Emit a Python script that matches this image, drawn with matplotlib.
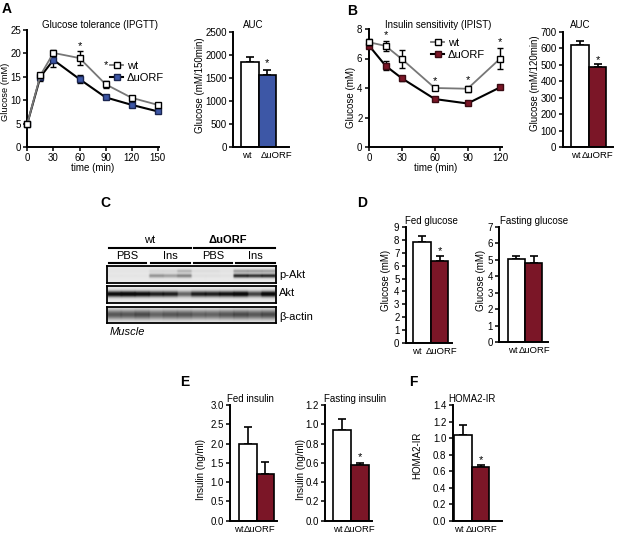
import numpy as np
import matplotlib
matplotlib.use("Agg")
import matplotlib.pyplot as plt
from matplotlib.lines import Line2D

plt.rcParams['font.family'] = ['Liberation Sans', 'DejaVu Sans']
FS = 7.0
XFS = 6.8
plt.rcParams['font.size'] = FS

# ---------------- data ----------------
ipgtt_time = [0, 15, 30, 60, 90, 120, 150]
ipgtt_wt = [5.0, 15.3, 20.1, 19.0, 13.4, 10.5, 9.0]
ipgtt_wt_err = [0.3, 0.6, 0.6, 1.5, 0.8, 0.4, 0.4]
ipgtt_ko = [5.0, 15.0, 18.6, 14.5, 10.6, 9.0, 7.6]
ipgtt_ko_err = [0.3, 0.8, 1.5, 0.8, 0.4, 0.4, 0.3]
ipgtt_star_t = [60, 90]
ipgtt_star_y = [20.6, 16.4]

auc_a_vals = [1855, 1565]
auc_a_err = [110, 110]

ipist_time = [0, 15, 30, 60, 90, 120]
ipist_wt = [7.1, 6.85, 5.95, 4.0, 3.95, 6.0]
ipist_wt_err = [0.2, 0.35, 0.6, 0.1, 0.2, 0.7]
ipist_ko = [6.85, 5.5, 4.65, 3.25, 2.95, 4.05]
ipist_ko_err = [0.15, 0.3, 0.15, 0.08, 0.08, 0.1]
ipist_star_t = [15, 60, 90, 120]

auc_b_vals = [618, 484]
auc_b_err = [28, 22]

groups = ['wt', '\u0394uORF']

fed_glu = [7.85, 6.35]
fed_glu_err = [0.45, 0.35]
fast_glu = [5.05, 4.8]
fast_glu_err = [0.2, 0.45]
fed_ins = [2.0, 1.22]
fed_ins_err = [0.42, 0.31]
fast_ins = [0.94, 0.58]
fast_ins_err = [0.115, 0.02]
homa = [1.04, 0.655]
homa_err = [0.12, 0.025]

# western blot band intensities (12 lanes: wt PBS x3, wt Ins x3, dUORF PBS x3, dUORF Ins x3)
pakt_low = [0.02, 0.02, 0.02, 0.35, 0.30, 0.42, 0.04, 0.04, 0.03, 0.80, 0.75, 0.80]
pakt_up = [0.02, 0.02, 0.02, 0.08, 0.08, 0.22, 0.05, 0.05, 0.03, 0.30, 0.30, 0.30]
akt = [0.95, 1.0, 0.95, 0.85, 0.85, 0.55, 0.85, 0.85, 0.9, 1.0, 0.7, 1.0]
bactin = [0.6, 0.6, 0.65, 0.55, 0.6, 0.6, 0.55, 0.55, 0.6, 0.65, 0.6, 0.65]

BLUE = '#3d57a6'
RED = '#7b1627'

W, H = 621, 545
fig = plt.figure(figsize=(W / 100, H / 100), dpi=100)


def ax_px(l, t, r, b):
    return fig.add_axes([l / W, 1 - b / H, (r - l) / W, (b - t) / H])


def ftext(x, y, s, **kw):
    kw.setdefault('fontsize', FS)
    fig.text(x / W, 1 - y / H, s, **kw)


def style(ax):
    for s in ['top', 'right']:
        ax.spines[s].set_visible(False)
    for s in ['left', 'bottom']:
        ax.spines[s].set_linewidth(1.4)
    ax.tick_params(axis='both', length=3, width=1.1, labelsize=FS, pad=1.5)


def bar_panel(box, xlim, ylim, yticks, ytl, vals, errs, color, star, star_off, labpos):
    ax = ax_px(*box)
    style(ax)
    x = np.arange(len(vals))
    ax.bar(x, vals, width=1.0, color=['white', color], edgecolor='black',
           linewidth=1.2, zorder=2)
    ax.errorbar(x, vals, yerr=[[0] * len(vals), errs], fmt='none',
                ecolor='black', elinewidth=1.2, capsize=3, capthick=1.2, zorder=1)
    ax.set_xlim(*xlim)
    ax.set_ylim(*ylim)
    ax.set_yticks(yticks)
    ax.set_yticklabels(ytl)
    ax.set_xticks(labpos)
    ax.set_xticklabels(groups, fontsize=XFS)
    ax.tick_params(axis='x', length=0, pad=3)
    if star:
        ax.text(1, vals[1] + errs[1] + star_off, '*', ha='center', va='bottom',
                fontsize=8)
    return ax


# ---------------- Panel A ----------------
axA = ax_px(26.7, 30, 159, 147)
style(axA)
axA.tick_params(axis='y', pad=1.0)
axA.errorbar(ipgtt_time, ipgtt_ko, yerr=ipgtt_ko_err, color='black', lw=1.5,
             marker='s', ms=5, mfc=BLUE, mec='#1a2550', mew=1.0,
             ecolor='black', elinewidth=1.0, capsize=2, zorder=3, clip_on=False)
axA.errorbar(ipgtt_time, ipgtt_wt, yerr=ipgtt_wt_err, color='#777777', lw=1.3,
             marker='s', ms=5, mfc='white', mec='black', mew=1.0,
             ecolor='black', elinewidth=1.0, capsize=2, zorder=4, clip_on=False)
for t, ys in zip(ipgtt_star_t, ipgtt_star_y):
    axA.text(t, ys, '*', ha='center', va='bottom', fontsize=8)
axA.set_xlim(-0.7, 151.3)
axA.set_ylim(0, 25)
axA.set_xticks([0, 30, 60, 90, 120, 150])
axA.set_yticks([0, 5, 10, 15, 20, 25])
axA.set_xlabel('time (min)', labelpad=0, fontsize=FS)
ftext(5.8, 92, 'Glucose (mM)', rotation=90, ha='center', va='center', fontsize=6.7)
ftext(100, 25, 'Glucose tolerance (IPGTT)', ha='center', va='center')
hA = [Line2D([], [], color='#777777', lw=1.3, marker='s', ms=5, mfc='white', mec='black'),
      Line2D([], [], color='black', lw=1.5, marker='s', ms=5, mfc=BLUE, mec='#1a2550')]
axA.legend(hA, groups, loc='upper left', bbox_to_anchor=(110 / W, 1 - 61 / H),
           bbox_transform=fig.transFigure, frameon=False, handlelength=1.2,
           handletextpad=0.3, labelspacing=0.15, borderpad=0, borderaxespad=0, fontsize=8)
ftext(7, 9, 'A', fontsize=10, fontweight='bold', ha='center', va='center')

bar_panel((233.3, 32, 289, 147), (-0.96, 2.24), (0, 2500),
          [0, 500, 1000, 1500, 2000, 2500], ['0', '500', '1000', '1500', '2000', '2500'],
          auc_a_vals, auc_a_err, BLUE, True, 50, [-0.19, 1.52])
ftext(253.3, 25, 'AUC', ha='center', va='center')
ftext(200, 85, 'Glucose (mM/150min)', rotation=90, ha='center', va='center')

# ---------------- Panel B ----------------
axB = ax_px(368.7, 29, 501.7, 147)
style(axB)
axB.errorbar(ipist_time, ipist_ko, yerr=ipist_ko_err, color='black', lw=1.5,
             marker='s', ms=5, mfc=RED, mec='#3a0a12', mew=1.0,
             ecolor='black', elinewidth=1.0, capsize=2, zorder=3, clip_on=False)
axB.errorbar(ipist_time, ipist_wt, yerr=ipist_wt_err, color='#777777', lw=1.3,
             marker='s', ms=5, mfc='white', mec='black', mew=1.0,
             ecolor='black', elinewidth=1.0, capsize=2, zorder=4, clip_on=False)
for t in ipist_star_t:
    i = ipist_time.index(t)
    axB.text(t, ipist_wt[i] + ipist_wt_err[i] + 0.05, '*', ha='center', va='bottom', fontsize=8)
axB.set_xlim(-0.55, 121.3)
axB.set_ylim(0, 8)
axB.set_xticks([0, 30, 60, 90, 120])
axB.set_yticks([0, 2, 4, 6, 8])
axB.set_xlabel('time (min)', labelpad=0, fontsize=FS)
ftext(351.5, 97, 'Glucose (mM)', rotation=90, ha='center', va='center')
ftext(438, 25, 'Insulin sensitivity (IPIST)', ha='center', va='center')
hB = [Line2D([], [], color='#777777', lw=1.3, marker='s', ms=5, mfc='white', mec='black'),
      Line2D([], [], color='black', lw=1.5, marker='s', ms=5, mfc=RED, mec='#3a0a12')]
axB.legend(hB, groups, loc='upper left', bbox_to_anchor=(431 / W, 1 - 38 / H),
           bbox_transform=fig.transFigure, frameon=False, handlelength=1.2,
           handletextpad=0.3, labelspacing=0.15, borderpad=0, borderaxespad=0, fontsize=8)
ftext(352, 11, 'B', fontsize=10, fontweight='bold', ha='center', va='center')

bar_panel((562.7, 31.7, 612.7, 147), (-0.955, 1.85), (0, 700),
          [0, 100, 200, 300, 400, 500, 600, 700],
          ['0', '100', '200', '300', '400', '500', '600', '700'],
          auc_b_vals, auc_b_err, RED, True, -8, [-0.21, 0.99])
ftext(580, 25, 'AUC', ha='center', va='center')
ftext(535.5, 83, 'Glucose (mM/120min)', rotation=90, ha='center', va='center')

# ---------------- Panel C (western blot) ----------------
ftext(105, 203, 'C', fontsize=10, fontweight='bold', ha='center', va='center')
ftext(150, 240, 'wt', ha='center', va='center', fontsize=8)
ftext(228, 240, '\u0394uORF', ha='center', va='center', fontsize=8, fontweight='bold')
for (x0, x1) in [(109, 190.7), (194.3, 275)]:
    fig.add_artist(Line2D([x0 / W, x1 / W], [1 - 247.7 / H] * 2, color='black', lw=1.5))
for (x0, x1, lab) in [(109, 145.7, 'PBS'), (151, 190, 'Ins'), (194.3, 231.7, 'PBS'), (235.7, 275, 'Ins')]:
    fig.add_artist(Line2D([x0 / W, x1 / W], [1 - 262.7 / H] * 2, color='black', lw=1.5))
    ftext((x0 + x1) / 2, 256, lab, ha='center', va='center', fontsize=8)


def blot(box, lanes_list, centers, sigmas, label, ly):
    ax = ax_px(*box)
    nx, ny = 336, 40
    xs = np.linspace(0, 12, nx)
    ys = np.linspace(0, 1, ny)
    img = np.full((ny, nx), 0.09)
    for lanes, c, s in zip(lanes_list, centers, sigmas):
        prof_x = np.zeros(nx)
        for i, v in enumerate(lanes):
            d = np.abs(xs - (i + 0.5))
            prof_x += v * np.clip((0.58 - d) / 0.15, 0, 1)
        prof_y = np.exp(-0.5 * ((ys - c) / s) ** 2)
        img += np.outer(prof_y, prof_x)
    ax.imshow(np.clip(img, 0, 1), cmap='gray_r', vmin=0, vmax=1.05,
              aspect='auto', interpolation='bilinear', extent=(0, 12, 1, 0))
    ax.set_xticks([])
    ax.set_yticks([])
    for s in ax.spines.values():
        s.set_linewidth(1.3)
    ftext(279, ly, label, ha='left', va='center', fontsize=8)


blot((107.3, 265.7, 275.7, 283.3), [pakt_low, pakt_up], [0.6, 0.33], [0.08, 0.07], 'p-Akt', 275)
blot((107.3, 286, 275.7, 303.3), [akt], [0.5], [0.12], 'Akt', 293.3)
blot((107.3, 306.7, 275.7, 323.3), [bactin], [0.5], [0.2], '\u03b2-actin', 316.7)
ftext(110, 332, 'Muscle', ha='left', va='center', fontsize=8, style='italic')

# ---------------- Panel D ----------------
ftext(361.7, 203, 'D', fontsize=10, fontweight='bold', ha='center', va='center')
bar_panel((405.7, 226.7, 452, 343.3), (-0.94, 1.70), (0, 9), list(range(10)),
          [str(i) for i in range(10)], fed_glu, fed_glu_err, RED, True, 0.02, [-0.3, 1.13])
ftext(431.7, 220.7, 'Fed glucose', ha='center', va='center')
ftext(386, 280, 'Glucose (mM)', rotation=90, ha='center', va='center')

bar_panel((499.3, 226.7, 548, 342.3), (-0.98, 1.83), (0, 7), list(range(8)),
          [str(i) for i in range(8)], fast_glu, fast_glu_err, RED, False, 0, [-0.19, 1.08])
ftext(534, 220.7, 'Fasting glucose', ha='center', va='center')
ftext(481, 280, 'Glucose (mM)', rotation=90, ha='center', va='center')

# ---------------- Panel E ----------------
ftext(185, 382, 'E', fontsize=10, fontweight='bold', ha='center', va='center')
bar_panel((230, 405, 277, 520.7), (-1.04, 1.68), (0, 3.0),
          [0, 0.5, 1.0, 1.5, 2.0, 2.5, 3.0], ['0.0', '0.5', '1.0', '1.5', '2.0', '2.5', '3.0'],
          fed_ins, fed_ins_err, RED, False, 0, [-0.52, 0.69])
ftext(250, 399, 'Fed insulin', ha='center', va='center')
ftext(201, 469, 'Insulin (ng/ml)', rotation=90, ha='center', va='center')

bar_panel((325, 405, 372, 520.7), (-0.92, 1.69), (0, 1.2),
          [0, 0.2, 0.4, 0.6, 0.8, 1.0, 1.2], ['0.0', '0.2', '0.4', '0.6', '0.8', '1.0', '1.2'],
          fast_ins, fast_ins_err, RED, True, 0.005, [-0.22, 1.0])
ftext(355, 399, 'Fasting insulin', ha='center', va='center')
ftext(301, 469, 'Insulin (ng/ml)', rotation=90, ha='center', va='center')

# ---------------- Panel F ----------------
ftext(413, 382, 'F', fontsize=10, fontweight='bold', ha='center', va='center')
bar_panel((452.7, 405, 501.7, 520.7), (-0.58, 2.2), (0, 1.4),
          [0, 0.2, 0.4, 0.6, 0.8, 1.0, 1.2, 1.4],
          ['0.0', '0.2', '0.4', '0.6', '0.8', '1.0', '1.2', '1.4'],
          homa, homa_err, RED, True, -0.01, [-0.22, 1.03])
ftext(471.7, 399, 'HOMA2-IR', ha='center', va='center')
ftext(417, 455, 'HOMA2-IR', rotation=90, ha='center', va='center')

fig.savefig('out.png', dpi=100)
